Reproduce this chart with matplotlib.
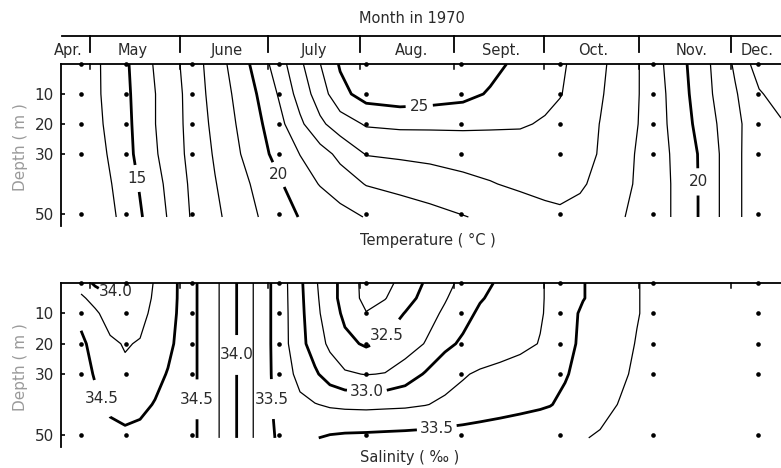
import numpy as np
import matplotlib
matplotlib.use("Agg")
import matplotlib.pyplot as plt

# ---------------- data (x = day counted from 1 April 1970, y = depth in m) -------------
station_days = [27, 42, 64, 93, 122, 154, 187, 218, 253]
station_depths = [0, 10, 20, 30, 50]

months = ["Apr.", "May", "June", "July", "Aug.", "Sept.", "Oct.", "Nov.", "Dec."]
month_label_days = [22.7, 44.4, 75.7, 104.8, 137.2, 167.2, 198.0, 231.0, 252.7]
month_bounds = [30, 60, 89.5, 120.2, 151.5, 181.6, 213.3, 244.0]

depth_ticks = [10, 20, 30, 50]

# Temperature section
t_days = [27.0, 33.3, 41.7, 50.0, 58.4, 63.7, 71.7, 80.1, 86.8, 92.8, 100.1, 106.8,
          113.5, 122.2, 133.5, 143.5, 154.5, 163.6, 173.6, 181.9, 186.9, 193.6,
          200.3, 207.0, 213.6, 218.3, 227.0, 237.0, 245.4, 253.4, 260.7]
t_depths = [0, 10, 20, 30, 40, 51]
temp_0 = [13.6, 13.98, 14.83, 15.9, 16.8, 17.45, 18.5, 19.55, 20.5, 21.5, 22.8, 23.98,
          25.1, 25.5, 25.8, 25.8, 25.6, 25.3, 24.75, 24.4, 24.15, 23.7, 23.2, 22.6,
          21.98, 21.4, 20.3, 19.02, 17.85, 16.5, 16.0]
temp_10 = [13.6, 13.97, 14.77, 15.8, 16.7, 17.35, 18.4, 19.3, 20.15, 21.05, 22.4, 23.5,
           24.7, 25.4, 25.6, 25.5, 25.3, 24.9, 24.45, 24.25, 24.05, 23.6, 23.1, 22.55,
           21.98, 21.5, 20.4, 19.1, 18.1, 17.1, 16.6]
temp_20 = [13.55, 13.9, 14.7, 15.8, 16.7, 17.3, 18.25, 19.15, 19.9, 20.65, 21.8, 22.8,
           23.5, 24.1, 24.2, 24.2, 24.2, 24.15, 24.1, 23.9, 23.7, 23.45, 22.98, 22.5,
           21.95, 21.5, 20.5, 19.3, 18.2, 17.5, 17.1]
temp_30 = [13.45, 13.75, 14.65, 15.7, 16.65, 17.25, 18.1, 18.98, 19.7, 20.3, 21.02, 21.6,
           22.25, 23.05, 23.15, 23.2, 23.3, 23.4, 23.5, 23.5, 23.4, 23.25, 22.95, 22.4,
           21.85, 21.45, 20.7, 19.5, 18.15, 17.6, 17.2]
temp_40 = [13.35, 13.6, 14.45, 15.5, 16.45, 17.15, 17.95, 18.7, 19.3, 19.85, 20.55, 21.05,
           21.5, 22.05, 22.35, 22.6, 22.8, 22.95, 23.15, 23.25, 23.25, 23.1, 22.8, 22.35,
           21.8, 21.45, 20.75, 19.5, 18.15, 17.6, 17.2]
temp_51 = [13.2, 13.45, 14.3, 15.3, 16.35, 17.05, 17.8, 18.5, 19.05, 19.5, 20.05, 20.35,
           20.65, 21.05, 21.3, 21.6, 21.95, 22.2, 22.5, 22.75, 22.85, 22.75, 22.5, 22.1,
           21.7, 21.45, 20.75, 19.5, 18.15, 17.6, 17.2]
temp_levels_thin = [14, 16, 17, 18, 19, 21, 22, 23, 24]
temp_levels_bold = [15, 20, 25]

# Salinity section
s_days = [27.0, 31.7, 36.7, 41.7, 46.7, 51.7, 56.0, 59.4, 63.7, 70.1, 76.1, 81.8, 87.4,
          92.8, 100.1, 105.1, 110.1, 115.1, 122.2, 128.5, 135.2, 141.9, 148.5, 154.5,
          160.2, 166.9, 173.6, 180.3, 183.6, 188.6, 194.6, 200.3, 207.0, 212.6, 218.3,
          233.7, 253.4]
s_depths = [0, 5, 10, 20, 30, 40, 51]
sal_0 = [34.12, 33.96, 33.93, 33.98, 34.05, 34.28, 34.38, 34.51, 34.56, 34.37, 34.13,
         33.87, 33.62, 33.40, 33.05, 32.78, 32.60, 32.40, 32.17, 32.17, 32.35, 32.52,
         32.68, 32.81, 32.92, 33.04, 33.13, 33.23, 33.28, 33.38, 33.49, 33.58, 33.67,
         33.74, 33.80, 33.85, 33.87]
sal_5 = [34.30, 34.15, 34.02, 34.06, 34.10, 34.30, 34.40, 34.51, 34.56, 34.37, 34.13,
         33.87, 33.62, 33.40, 33.06, 32.80, 32.60, 32.40, 32.18, 32.24, 32.40, 32.58,
         32.73, 32.87, 32.98, 33.07, 33.15, 33.23, 33.28, 33.38, 33.49, 33.58, 33.67,
         33.74, 33.80, 33.85, 33.87]
sal_10 = [34.42, 34.30, 34.12, 34.13, 34.16, 34.33, 34.42, 34.515, 34.56, 34.37, 34.13,
          33.87, 33.62, 33.40, 33.07, 32.82, 32.62, 32.45, 32.26, 32.35, 32.51, 32.65,
          32.79, 32.92, 33.04, 33.10, 33.16, 33.23, 33.29, 33.40, 33.54, 33.60, 33.68,
          33.74, 33.80, 33.85, 33.87]
sal_20 = [34.56, 34.40, 34.30, 34.23, 34.27, 34.38, 34.46, 34.53, 34.56, 34.37, 34.13,
          33.87, 33.62, 33.40, 33.08, 32.88, 32.70, 32.56, 32.47, 32.54, 32.63, 32.76,
          32.94, 33.04, 33.10, 33.14, 33.19, 33.26, 33.31, 33.41, 33.56, 33.62, 33.69,
          33.76, 33.80, 33.85, 33.87]
sal_30 = [34.60, 34.48, 34.40, 34.30, 34.37, 34.45, 34.51, 34.55, 34.56, 34.37, 34.13,
          33.87, 33.62, 33.41, 33.18, 33.04, 32.88, 32.78, 32.74, 32.76, 32.87, 33.02,
          33.16, 33.23, 33.28, 33.32, 33.36, 33.40, 33.43, 33.48, 33.58, 33.64, 33.72,
          33.78, 33.81, 33.85, 33.87]
sal_40 = [34.62, 34.55, 34.47, 34.45, 34.46, 34.51, 34.55, 34.57, 34.56, 34.37, 34.13,
          33.87, 33.62, 33.43, 33.30, 33.26, 33.22, 33.20, 33.19, 33.20, 33.21, 33.24,
          33.29, 33.33, 33.37, 33.41, 33.44, 33.47, 33.49, 33.55, 33.62, 33.69, 33.76,
          33.80, 33.82, 33.85, 33.87]
sal_51 = [34.62, 34.60, 34.55, 34.53, 34.55, 34.56, 34.58, 34.58, 34.56, 34.37, 34.13,
          33.87, 33.62, 33.47, 33.46, 33.49, 33.53, 33.55, 33.56, 33.57, 33.58, 33.59,
          33.60, 33.61, 33.62, 33.63, 33.65, 33.67, 33.68, 33.70, 33.74, 33.77, 33.80,
          33.82, 33.83, 33.86, 33.87]
sal_levels_thin = [32.25, 32.75, 33.25, 33.75, 34.25]
sal_levels_bold = [32.5, 33.0, 33.5, 34.0, 34.5]

# contour label spots (day, depth)
temp_label_pos = [(46.7, 38.0), (89.0, 38.7), (140.0, 16.0), (232.7, 39.3)]
sal_label_pos = [(40.0, 5.2), (33.3, 38.3), (66.7, 38.3), (78.4, 23.7), (88.4, 38.3),
                 (128.5, 16.7), (122.5, 37.0), (145.5, 45.3)]

# ---------------- figure ----------------------------------------------------------------
plt.rcParams['font.family'] = ['DejaVu Sans']
TXT = '#2a2a2a'
fig = plt.figure(figsize=(7.81, 4.68), dpi=100)
ax1 = fig.add_axes([61 / 781, 1 - 226 / 468, 720 / 781, 162 / 468])
ax2 = fig.add_axes([61 / 781, 1 - 447 / 468, 720 / 781, 164 / 468])

XL = (20.3, 260.7)
for ax in (ax1, ax2):
    ax.set_xlim(*XL)
    ax.set_ylim(54, 0)
    ax.spines['right'].set_visible(False)
    ax.spines['bottom'].set_visible(False)
    ax.spines['top'].set_linewidth(1.3)
    ax.spines['left'].set_linewidth(1.3)
    ax.set_xticks([])
    ax.set_yticks(depth_ticks)
    ax.set_yticklabels([str(d) for d in depth_ticks])
    ax.tick_params(axis='y', direction='in', length=3, width=1.2, pad=5,
                   labelsize=11, labelcolor=TXT)
    ax.patch.set_alpha(0)
    for b in month_bounds:
        ax.plot([b, b], [0, 1.8], color='k', lw=1.1, clip_on=False)
    sx, sy = np.meshgrid(station_days, station_depths)
    ax.scatter(sx.ravel(), sy.ravel(), s=11, color='k', zorder=5, clip_on=False,
               linewidths=0)

# temperature
T = np.array([temp_0, temp_10, temp_20, temp_30, temp_40, temp_51])
TX, TY = np.meshgrid(t_days, t_depths)
ax1.contour(TX, TY, T, levels=temp_levels_thin, colors='k', linewidths=0.9)
cs1 = ax1.contour(TX, TY, T, levels=temp_levels_bold, colors='k', linewidths=2.0)
tl = ax1.clabel(cs1, manual=temp_label_pos, fmt='%d', inline=True, inline_spacing=4,
                fontsize=11, colors=TXT)
for t in tl:
    t.set_rotation(0)

# salinity
S = np.array([sal_0, sal_5, sal_10, sal_20, sal_30, sal_40, sal_51])
SX, SY = np.meshgrid(s_days, s_depths)
ax2.contour(SX, SY, S, levels=sal_levels_thin, colors='k', linewidths=0.9)
cs2 = ax2.contour(SX, SY, S, levels=sal_levels_bold, colors='k', linewidths=2.0)
sl = ax2.clabel(cs2, manual=sal_label_pos, fmt='%.1f', inline=True, inline_spacing=3,
                fontsize=11, colors=TXT)
for t in sl:
    t.set_rotation(0)

# header with months
yh = -9.33
ax1.plot([20.6, XL[1]], [yh, yh], color='k', lw=1.3, clip_on=False)
for b in month_bounds:
    ax1.plot([b, b], [yh, -4.0], color='k', lw=1.3, clip_on=False)
for m, d in zip(months, month_label_days):
    ax1.text(d, -4.6, m, ha='center', va='center', fontsize=10.5, color=TXT,
             clip_on=False)
ax1.text(137.5, -15.3, "Month in 1970", ha='center', va='center', fontsize=10.5,
         color=TXT)
ax1.text(142.9, 58.7, "Temperature ( °C )", ha='center', va='center', fontsize=10.5,
         color=TXT)
ax2.text(136.8, 57.3, "Salinity ( \u2030 )", ha='center', va='center', fontsize=10.5,
         color=TXT)

fig.text(21 / 781, 1 - 147 / 468, "Depth ( m )", rotation=90, ha='center', va='center',
         fontsize=11, color='#9a9a9a')
fig.text(21 / 781, 1 - 367 / 468, "Depth ( m )", rotation=90, ha='center', va='center',
         fontsize=11, color='#9a9a9a')

fig.savefig("out.png", dpi=100)
